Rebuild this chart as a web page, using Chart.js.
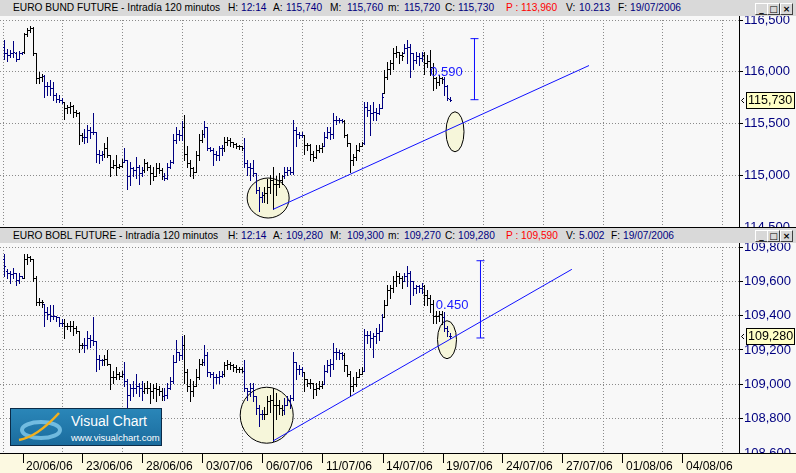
<!DOCTYPE html>
<html>
<head>
<meta charset="utf-8">
<script src="https://cdn.jsdelivr.net/npm/chart.js@4.4.0/dist/chart.umd.min.js"></script>
<style>
  html, body { margin: 0; padding: 0; }
  body { width: 796px; height: 473px; position: relative; overflow: hidden; background: #f8f8f8;
         font-family: "Liberation Sans", Arial, sans-serif; }
  canvas { position: absolute; left: 0; }
  .bar { position: absolute; left: 0; width: 796px; background: #d9d9d9; font-size: 10.2px; z-index: 2; }
  .bar span { position: absolute; top: 0; white-space: nowrap; color: #000; }
  .bar .v { color: #000080; }
  .bar .p { color: #ff0000; }
  .btn { position: absolute; width: 11px; height: 10px; background: #d8d8d8; border: 1px solid;
         border-color: #fff #404040 #404040 #fff; font: bold 9px "DejaVu Sans", sans-serif; line-height: 10px;
         text-align: center; color: #000; }
  .sep { position: absolute; left: 0; width: 796px; height: 1px; background: #000; z-index: 3; }
  .axl { position: absolute; left: 739px; width: 1px; background: #000; z-index: 1; }
  #logo { position: absolute; left: 10px; top: 408px; width: 150px; height: 36px; z-index: 4;
          border: 1px solid #0b2b48; background: linear-gradient(#2a86b8, #1b6c9e); color: #fff; }
  #logo .t1 { position: absolute; left: 60px; top: 4px; font-size: 14px; }
  #logo .t2 { position: absolute; left: 60px; top: 23px; font-size: 9.5px; }
</style>
</head>
<body>
<div class="bar" style="top:0;height:16px;line-height:16px">
  <span style="left:13px">EURO BUND FUTURE - Intradía 120 minutos</span>
  <span style="left:228px">H:</span><span class="v" style="left:241px">12:14</span>
  <span style="left:273px">A:</span><span class="v" style="left:286px">115,740</span>
  <span style="left:330px">M:</span><span class="v" style="left:347px">115,760</span>
  <span style="left:388px">m:</span><span class="v" style="left:404px">115,720</span>
  <span style="left:445px">C:</span><span class="v" style="left:458px">115,730</span>
  <span class="p" style="left:506px">P : 113,960</span>
  <span style="left:566px">V:</span><span class="v" style="left:579px">10.213</span>
  <span style="left:618px">F:</span><span class="v" style="left:630px">19/07/2006</span>
  <div class="btn" style="left:755px;top:3px">_</div>
  <div class="btn" style="left:767px;top:3px">□</div>
  <div class="btn" style="left:780px;top:3px">×</div>
</div>
<canvas id="bund" width="796" height="228" style="top:0"></canvas>
<div class="axl" style="top:16px;height:4px"></div>
<div class="sep" style="top:227px"></div>
<div class="bar" style="top:228px;height:15px;line-height:15px">
  <span style="left:13px">EURO BOBL FUTURE - Intradía 120 minutos</span>
  <span style="left:228px">H:</span><span class="v" style="left:241px">12:14</span>
  <span style="left:273px">A:</span><span class="v" style="left:286px">109,280</span>
  <span style="left:330px">M:</span><span class="v" style="left:347px">109,300</span>
  <span style="left:388px">m:</span><span class="v" style="left:404px">109,270</span>
  <span style="left:445px">C:</span><span class="v" style="left:458px">109,280</span>
  <span class="p" style="left:506px">P : 109,590</span>
  <span style="left:566px">V:</span><span class="v" style="left:579px">5.002</span>
  <span style="left:611px">F:</span><span class="v" style="left:623px">19/07/2006</span>
  <div class="btn" style="left:755px;top:2px">_</div>
  <div class="btn" style="left:767px;top:2px">□</div>
  <div class="btn" style="left:780px;top:2px">×</div>
</div>
<canvas id="bobl" width="796" height="245" style="top:228px"></canvas>
<div class="axl" style="top:243px;height:4px"></div>
<div id="logo">
  <svg width="52" height="34" style="position:absolute;left:4px;top:1px">
    <ellipse cx="26" cy="20" rx="19" ry="8" fill="none" stroke="#8cd2f2" stroke-width="4" opacity="0.75"/>
    <path d="M4 30 Q22 27 44 3" stroke="#f2b01e" stroke-width="2.5" fill="none"/>
  </svg>
  <div class="t1">Visual Chart</div>
  <div class="t2">www.visualchart.com</div>
</div>

<script>
// 120-minute bars, 7 per session, 19/06/2006 .. 19/07/2006 12:14
const barsPerDay = 7;

const dateLabels = ['20/06/06', '23/06/06', '28/06/06', '03/07/06', '06/07/06', '11/07/06',
                    '14/07/06', '19/07/06', '24/07/06', '27/07/06', '01/08/06', '04/08/06'];
const labelDays = [1, 4, 7, 10, 13, 16, 19, 22, 25, 28, 31, 34];
const gridDays = [0, 3, 6, 9, 12, 15, 18, 21, 24, 27, 30, 33, 36];

const bundTicks = [114.5, 115.0, 115.5, 116.0, 116.5];
const boblTicks = [108.6, 108.8, 109.0, 109.2, 109.4, 109.6, 109.8];

// EURO BUND FUTURE
const bundOpen = [
  116.24,116.18,116.16,116.18,116.18,116.12,116.18, 116.19,116.36,116.40,116.42,116.18,115.94,115.95,
  115.96,115.86,115.86,115.84,115.78,115.74,115.73, 115.71,115.65,115.66,115.67,115.61,115.60,115.39,
  115.37,115.37,115.44,115.42,115.42,115.21,115.20, 115.21,115.26,115.20,115.08,115.10,115.08,115.09,
  115.13,115.15,114.99,115.07,115.05,115.08,115.02, 115.05,115.12,115.08,115.02,114.99,115.07,115.05,
  114.99,114.97,115.08,115.13,115.34,115.40,115.39, 115.47,115.21,115.12,115.07,115.03,115.20,115.34,
  115.40,115.47,115.26,115.24,115.21,115.20,115.26, 115.26,115.32,115.34,115.32,115.30,115.28,115.28,
  115.26,115.12,115.08,115.07,115.02,114.86,114.79, 114.81,114.83,114.89,114.95,114.92,114.92,114.95,
  114.99,115.03,115.05,115.03,115.44,115.40,115.39, 115.39,115.29,115.29,115.21,115.18,115.24,115.26,
  115.28,115.37,115.42,115.40,115.53,115.53,115.53, 115.52,115.39,115.31,115.15,115.18,115.24,115.28,
  115.31,115.66,115.63,115.60,115.61,115.60,115.65, 115.79,115.95,116.03,116.08,116.18,116.19,116.16,
  116.18,116.23,116.24,116.18,116.11,116.15,116.13, 116.16,116.08,116.10,116.05,115.94,115.90,115.94,
  115.93,115.86,115.74
];
const bundHigh = [
  116.31,116.22,116.21,116.30,116.19,116.20,116.19, 116.37,116.42,116.44,116.43,116.18,116.00,115.98,
  115.97,115.90,115.92,115.90,115.79,115.78,115.75, 115.71,115.68,115.71,115.68,115.63,115.61,115.41,
  115.45,115.49,115.47,115.60,115.42,115.24,115.23, 115.31,115.37,115.20,115.15,115.20,115.11,115.16,
  115.26,115.15,115.13,115.08,115.18,115.10,115.08, 115.16,115.13,115.10,115.08,115.12,115.12,115.07,
  115.02,115.12,115.15,115.40,115.47,115.44,115.52, 115.58,115.28,115.15,115.08,115.23,115.40,115.44,
  115.52,115.47,115.27,115.26,115.23,115.28,115.29, 115.37,115.37,115.36,115.32,115.31,115.29,115.28,
  115.36,115.15,115.12,115.15,115.02,114.89,114.84, 114.89,114.96,115.00,115.08,114.99,115.02,115.00,
  115.08,115.08,115.08,115.53,115.47,115.42,115.42, 115.39,115.31,115.30,115.23,115.29,115.29,115.31,
  115.42,115.47,115.47,115.60,115.57,115.55,115.54, 115.53,115.40,115.31,115.21,115.29,115.31,115.32,
  115.71,115.71,115.68,115.71,115.65,115.69,115.79, 116.02,116.09,116.11,116.23,116.25,116.19,116.19,
  116.27,116.31,116.27,116.18,116.19,116.18,116.19, 116.19,116.16,116.21,116.08,115.95,115.97,115.95,
  115.95,115.87,115.76
];
const bundLow = [
  116.12,116.10,116.14,116.14,116.10,116.12,116.17, 116.18,116.35,116.38,116.16,115.89,115.89,115.91,
  115.76,115.78,115.78,115.73,115.71,115.71,115.70, 115.54,115.60,115.60,115.56,115.57,115.30,115.33,
  115.31,115.32,115.36,115.40,115.13,115.12,115.15, 115.18,115.18,114.99,115.07,115.00,115.07,115.08,
  115.13,114.87,114.91,114.99,114.97,114.92,114.99, 115.03,115.05,114.92,114.95,114.99,115.02,114.96,
  114.95,114.96,115.07,115.12,115.31,115.34,115.34, 115.15,115.08,114.99,114.97,115.03,115.15,115.32,
  115.37,115.24,115.23,115.10,115.15,115.15,115.20, 115.23,115.29,115.28,115.27,115.26,115.25,115.24,
  115.08,115.00,114.95,114.99,114.83,114.65,114.74, 114.74,114.73,114.83,114.67,114.81,114.89,114.92,
  114.97,115.00,115.01,115.01,115.28,115.36,115.37, 115.21,115.24,115.15,115.14,115.17,115.22,115.22,
  115.28,115.36,115.35,115.36,115.50,115.51,115.51, 115.37,115.28,115.03,115.10,115.15,115.23,115.28,
  115.30,115.57,115.39,115.53,115.53,115.59,115.65, 115.79,115.93,115.98,116.03,116.14,116.08,116.11,
  116.18,116.08,115.95,116.03,116.08,116.07,116.10, 115.98,116.05,115.97,115.82,115.84,115.87,115.89,
  115.78,115.73,115.72
];
const bundClose = [
  116.18,116.16,116.18,116.19,116.12,116.18,116.19, 116.36,116.40,116.42,116.18,115.94,115.95,115.96,
  115.86,115.86,115.84,115.78,115.74,115.73,115.71, 115.65,115.66,115.67,115.61,115.60,115.39,115.37,
  115.37,115.44,115.42,115.42,115.21,115.20,115.21, 115.26,115.20,115.08,115.10,115.08,115.09,115.13,
  115.15,114.99,115.07,115.05,115.08,115.02,115.05, 115.12,115.08,115.02,114.99,115.07,115.05,114.99,
  114.97,115.08,115.13,115.34,115.40,115.39,115.47, 115.21,115.12,115.07,115.03,115.20,115.34,115.40,
  115.47,115.26,115.24,115.21,115.20,115.26,115.26, 115.32,115.34,115.32,115.30,115.28,115.28,115.26,
  115.12,115.08,115.07,115.02,114.86,114.79,114.81, 114.83,114.89,114.95,114.92,114.92,114.95,114.99,
  115.03,115.05,115.03,115.44,115.40,115.39,115.39, 115.29,115.29,115.21,115.18,115.24,115.26,115.28,
  115.37,115.42,115.40,115.53,115.53,115.53,115.52, 115.39,115.31,115.15,115.18,115.24,115.28,115.31,
  115.66,115.63,115.60,115.61,115.60,115.65,115.76, 115.95,116.03,116.08,116.18,116.19,116.16,116.15,
  116.23,116.24,116.18,116.11,116.15,116.13,116.16, 116.08,116.10,116.05,115.94,115.90,115.94,115.93,
  115.86,115.75,115.73
];

// EURO BOBL FUTURE
const boblOpen = [
  109.73,109.66,109.65,109.64,109.65,109.61,109.63, 109.62,109.73,109.74,109.73,109.62,109.48,109.48,
  109.47,109.42,109.41,109.40,109.40,109.39,109.36, 109.36,109.34,109.34,109.34,109.33,109.31,109.23,
  109.23,109.23,109.27,109.26,109.25,109.15,109.14, 109.14,109.15,109.12,109.04,109.04,109.06,109.05,
  109.06,109.02,108.94,108.98,108.98,108.99,108.98, 108.96,108.98,108.98,108.96,108.98,108.97,108.96,
  108.93,108.94,108.98,109.02,109.13,109.19,109.17, 109.23,109.07,108.99,108.96,108.99,109.04,109.12,
  109.13,109.17,109.07,109.06,109.04,109.04,109.05, 109.06,109.11,109.12,109.11,109.10,109.09,109.09,
  109.08,108.98,108.96,108.98,108.93,108.86,108.83, 108.83,108.83,108.90,108.91,108.88,108.88,108.86,
  108.85,108.88,108.91,108.92,109.13,109.09,109.09, 109.07,109.03,109.01,109.01,108.97,108.98,108.99,
  109.00,109.08,109.11,109.12,109.19,109.19,109.18, 109.17,109.11,109.06,108.99,109.00,109.04,109.06,
  109.08,109.29,109.29,109.27,109.28,109.30,109.31, 109.39,109.46,109.55,109.56,109.60,109.63,109.62,
  109.60,109.63,109.65,109.60,109.56,109.57,109.56, 109.57,109.52,109.50,109.47,109.40,109.40,109.41,
  109.39,109.33,109.28
];
const boblHigh = [
  109.76,109.67,109.66,109.68,109.65,109.65,109.63, 109.76,109.76,109.75,109.73,109.63,109.50,109.49,
  109.47,109.45,109.46,109.46,109.40,109.39,109.38, 109.38,109.36,109.37,109.37,109.34,109.31,109.24,
  109.27,109.31,109.29,109.39,109.25,109.17,109.15, 109.17,109.20,109.12,109.08,109.10,109.07,109.08,
  109.13,109.03,109.00,109.02,109.06,109.01,109.02, 109.01,109.02,109.01,109.00,109.01,108.99,108.98,
  108.98,109.01,109.04,109.17,109.26,109.19,109.28, 109.29,109.09,109.03,109.02,109.09,109.15,109.15,
  109.23,109.19,109.07,109.07,109.06,109.08,109.08, 109.13,109.14,109.13,109.12,109.11,109.10,109.10,
  109.14,108.98,109.01,109.01,108.93,108.88,108.85, 108.87,108.93,108.94,108.98,108.95,108.91,108.88,
  108.92,108.93,108.94,109.19,109.13,109.11,109.10, 109.07,109.03,109.03,109.01,109.01,109.02,109.02,
  109.11,109.14,109.15,109.24,109.21,109.20,109.19, 109.18,109.11,109.08,109.04,109.07,109.09,109.10,
  109.32,109.31,109.31,109.30,109.33,109.35,109.41, 109.49,109.58,109.58,109.63,109.66,109.65,109.63,
  109.65,109.69,109.66,109.60,109.58,109.58,109.59, 109.58,109.55,109.52,109.49,109.43,109.43,109.43,
  109.42,109.34,109.30
];
const boblLow = [
  109.63,109.62,109.59,109.62,109.58,109.59,109.62, 109.62,109.70,109.72,109.60,109.46,109.46,109.45,
  109.34,109.38,109.37,109.38,109.37,109.34,109.34, 109.27,109.32,109.31,109.29,109.30,109.19,109.21,
  109.19,109.21,109.22,109.23,109.08,109.09,109.11, 109.11,109.11,108.97,109.01,109.03,109.03,109.04,
  108.99,108.87,108.91,108.93,108.95,108.93,108.91, 108.95,108.95,108.89,108.92,108.90,108.94,108.91,
  108.91,108.92,108.97,109.01,109.13,109.14,109.15, 109.01,108.96,108.90,108.93,108.99,109.03,109.11,
  109.11,109.05,109.04,108.98,109.01,109.01,109.04, 109.05,109.09,109.09,109.08,109.07,109.07,109.07,
  108.96,108.91,108.93,108.90,108.83,108.76,108.80, 108.80,108.83,108.84,108.67,108.80,108.83,108.82,
  108.83,108.88,108.86,108.91,109.03,109.06,109.05, 108.96,108.99,108.98,108.92,108.94,108.97,108.98,
  109.00,109.07,109.05,109.09,109.15,109.15,109.15, 109.08,109.05,108.93,108.96,108.99,109.04,109.06,
  109.08,109.24,109.22,109.16,109.24,109.26,109.31, 109.39,109.46,109.50,109.54,109.57,109.59,109.56,
  109.60,109.57,109.47,109.52,109.53,109.54,109.53, 109.46,109.46,109.42,109.36,109.36,109.37,109.35,
  109.31,109.28,109.27
];
const boblClose = [
  109.69,109.65,109.64,109.65,109.61,109.63,109.62, 109.73,109.74,109.73,109.62,109.48,109.48,109.48,
  109.42,109.41,109.40,109.40,109.39,109.36,109.36, 109.34,109.34,109.34,109.33,109.31,109.23,109.23,
  109.23,109.27,109.26,109.25,109.15,109.14,109.14, 109.15,109.12,109.04,109.04,109.06,109.05,109.06,
  109.02,108.94,108.98,108.98,108.99,108.98,108.96, 108.98,108.98,108.96,108.98,108.97,108.96,108.93,
  108.94,108.98,109.02,109.13,109.19,109.17,109.23, 109.07,108.99,108.96,108.99,109.04,109.12,109.13,
  109.17,109.07,109.06,109.04,109.04,109.05,109.06, 109.11,109.12,109.11,109.10,109.09,109.09,109.08,
  108.98,108.96,108.98,108.93,108.86,108.83,108.83, 108.83,108.90,108.91,108.88,108.88,108.86,108.85,
  108.88,108.91,108.92,109.13,109.09,109.09,109.07, 109.03,109.01,109.01,108.97,108.98,108.99,109.00,
  109.08,109.11,109.12,109.19,109.19,109.18,109.17, 109.11,109.06,108.99,109.00,109.04,109.06,109.08,
  109.29,109.29,109.27,109.28,109.30,109.31,109.39, 109.46,109.55,109.56,109.60,109.63,109.62,109.60,
  109.63,109.65,109.60,109.56,109.57,109.56,109.57, 109.52,109.50,109.47,109.40,109.40,109.41,109.39,
  109.33,109.31,109.28
];

// drawn objects on each panel (x in bar index, y in price)
const bundTrend = [{ x: 94, y: 114.67 }, { x: 204.6, y: 116.06 }];
const bundMeasure = [{ x: 164.52, y: 116.32 }, { x: 164.52, y: 115.73 }];
const boblTrend = [{ x: 94, y: 108.67 }, { x: 198.6, y: 109.67 }];
const boblMeasure = [{ x: 166.62, y: 109.72 }, { x: 166.62, y: 109.27 }];

const FONT = 'Liberation Sans, Arial, sans-serif';
const xMin = -1.55, xMax = 257.1;
const dayValue = d => d * barsPerDay - 0.5;
const fmt = v => v.toFixed(3).replace('.', ',');

function panelPlugin(s, ellipses, note, strip) {
  return {
    id: 'panel',
    beforeDatasetsDraw(chart) {
      const { ctx, chartArea: a } = chart;
      const x = chart.scales.x, y = chart.scales.y;
      ctx.save();
      ctx.beginPath();
      ctx.rect(a.left, a.top, a.right - a.left, a.bottom - a.top);
      ctx.clip();
      ellipses.forEach(e => {
        ctx.beginPath();
        ctx.ellipse(x.getPixelForValue(e.x), y.getPixelForValue(e.y), e.rx, e.ry, 0, 0, Math.PI * 2);
        ctx.fillStyle = '#f6f6da';
        ctx.fill();
        ctx.lineWidth = 1;
        ctx.strokeStyle = '#000';
        ctx.stroke();
      });
      for (let i = 0; i < s.close.length; i++) {
        const px = Math.round(x.getPixelForValue(i));
        const yh = Math.round(y.getPixelForValue(s.high[i]));
        const yl = Math.round(y.getPixelForValue(s.low[i]));
        ctx.fillStyle = Math.floor(i / barsPerDay) % 2 ? '#000000' : '#000080';
        ctx.fillRect(px, yh, 1, Math.max(1, yl - yh + 1));
        ctx.fillRect(px - 1, Math.round(y.getPixelForValue(s.open[i])), 1, 1);
        ctx.fillRect(px + 1, Math.round(y.getPixelForValue(s.close[i])), 1, 1);
      }
      ctx.restore();
    },
    afterDatasetsDraw(chart) {
      const { ctx, chartArea: a } = chart;
      const x = chart.scales.x, y = chart.scales.y;
      ctx.save();
      ctx.font = '13px ' + FONT;
      ctx.fillStyle = '#1a1aff';
      ctx.textBaseline = 'middle';
      ctx.fillText(note.text, x.getPixelForValue(note.x), y.getPixelForValue(note.y));
      if (strip) {
        ctx.fillStyle = '#fcf9e1';
        ctx.fillRect(0, a.bottom, chart.width, chart.height - a.bottom);
        ctx.fillStyle = '#000';
        ctx.fillRect(0, a.bottom, chart.width, 1);
      }
      ctx.restore();
    },
    afterDraw(chart) {
      const { ctx, chartArea: a } = chart;
      const last = s.close[s.close.length - 1];
      const py = Math.round(chart.scales.y.getPixelForValue(last));
      ctx.save();
      ctx.fillStyle = '#ffffc6';
      ctx.fillRect(a.right + 7, py - 8, 49, 17);
      ctx.strokeStyle = '#000';
      ctx.lineWidth = 1;
      ctx.strokeRect(a.right + 7.5, py - 7.5, 48, 16);
      ctx.beginPath();
      ctx.moveTo(a.right + 5, py - 2); ctx.lineTo(a.right + 2.5, py + 0.5); ctx.lineTo(a.right + 5, py + 3);
      ctx.stroke();
      ctx.fillStyle = '#000';
      ctx.font = '12.5px ' + FONT;
      ctx.textBaseline = 'middle';
      ctx.fillText(fmt(last), a.right + 9, py + 1);
      ctx.restore();
    }
  };
}

function makePanel(id, s, yTicks, trend, measure, ellipses, note, bottom) {
  const gridLines = {
    type: 'linear', min: xMin, max: xMax,
    afterBuildTicks: sc => { sc.ticks = gridDays.map(d => ({ value: dayValue(d) })); },
    afterFit: sc => { sc.height = 0; },
    grid: { color: '#8a8a8a', drawTicks: false },
    border: { display: false, dash: [1, 2] },
    ticks: { display: false }
  };
  const scales = {};
  if (bottom) {
    scales.x = {
      type: 'linear', position: 'bottom', min: xMin, max: xMax,
      afterBuildTicks: sc => { sc.ticks = labelDays.map(d => ({ value: dayValue(d) })); },
      afterFit: sc => { sc.height = 20; },
      grid: { drawOnChartArea: false, drawTicks: true, tickLength: 10, tickColor: '#000', z: 1 },
      border: { display: false },
      ticks: {
        z: 1, autoSkip: false, maxRotation: 0, minRotation: 0, align: 'start', labelOffset: 3,
        padding: -4, color: '#000', font: { family: FONT, size: 12 },
        callback: (v, i) => dateLabels[i]
      }
    };
    scales.xg = Object.assign({ position: 'top' }, gridLines);
  } else {
    scales.x = Object.assign({ position: 'bottom' }, gridLines);
  }
  scales.y = {
    position: 'right', min: yTicks[0], max: yTicks[yTicks.length - 1],
    afterBuildTicks: sc => { sc.ticks = yTicks.map(v => ({ value: v })); },
    afterFit: sc => { sc.width = 57; sc.paddingTop = 0; sc.paddingBottom = 0; },
    grid: { color: '#8a8a8a', tickColor: '#000', tickLength: 4 },
    border: { display: true, color: '#000', dash: [1, 2] },
    ticks: { color: '#000080', padding: 1, font: { family: FONT, size: 13 }, callback: v => fmt(v) }
  };

  return new Chart(document.getElementById(id), {
    type: 'line',
    data: {
      datasets: [
        { data: trend, xAxisID: 'x', borderColor: '#1010ff', borderWidth: 1, pointRadius: 0 },
        { data: measure, xAxisID: 'x', borderColor: '#1010ff', borderWidth: 1, pointStyle: 'line',
          pointRadius: 4, pointBorderWidth: 1, pointBorderColor: '#1010ff' }
      ]
    },
    options: {
      responsive: false,
      animation: false,
      events: [],
      layout: { autoPadding: false, padding: bottom ? { top: 19, bottom: 0, left: 0, right: 0 }
                                                     : { top: 20, bottom: 1, left: 0, right: 0 } },
      plugins: { legend: { display: false }, tooltip: { enabled: false } },
      scales: scales
    },
    plugins: [panelPlugin(s, ellipses, note, bottom)]
  });
}

makePanel('bund',
  { open: bundOpen, high: bundHigh, low: bundLow, close: bundClose },
  bundTicks, bundTrend, bundMeasure,
  [{ x: 92.3, y: 114.78, rx: 21, ry: 20 }, { x: 157.7, y: 115.42, rx: 9, ry: 20 }],
  { text: '0.590', x: 149, y: 115.99 }, false);

makePanel('bobl',
  { open: boblOpen, high: boblHigh, low: boblLow, close: boblClose },
  boblTicks, boblTrend, boblMeasure,
  [{ x: 91.8, y: 108.82, rx: 26.5, ry: 28 }, { x: 154.9, y: 109.26, rx: 9.5, ry: 19 }],
  { text: '0.450', x: 151, y: 109.46 }, true);
</script>
</body>
</html>
